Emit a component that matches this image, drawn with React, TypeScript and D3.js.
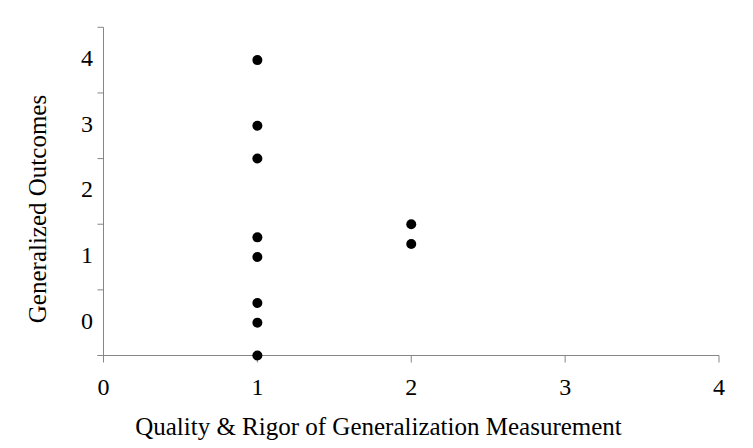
import React from "react";
import * as d3 from "d3";

const xValues = [1, 1, 1, 1, 1, 1, 1, 1, 2, 2];
const yValues = [4, 3, 2.5, 1.3, 1, 0.3, 0, -0.5, 1.5, 1.2];
const xTickLabels = [0, 1, 2, 3, 4];
const yTickLabels = [0, 1, 2, 3, 4];
const yTickMarks = [-0.5, 0.5, 1.5, 2.5, 3.5, 4.5];
const xTitle = "Quality & Rigor of Generalization Measurement";
const yTitle = "Generalized Outcomes";

const W = 753;
const H = 448;
const FONT = "'Liberation Serif', 'Times New Roman', serif";
const AXIS = "#868686";

export default function App() {
  const x = d3.scaleLinear().domain([0, 4]).range([103.5, 719]);
  const y = d3.scaleLinear().domain([-0.5, 4.5]).range([355.5, 27.3]);
  const y0 = y(-0.5);
  return (
    <svg
      width={W}
      height={H}
      style={{ position: "absolute", left: 0, top: 0, background: "#fff" }}
    >
      <rect x={0} y={0} width={W} height={H} fill="#fff" />
      {/* y axis */}
      <line x1={x(0)} x2={x(0)} y1={y(4.5)} y2={y0} stroke={AXIS} strokeWidth={1} />
      {yTickMarks.map((t) => (
        <line key={"yt" + t} x1={x(0) - 6} x2={x(0)} y1={y(t)} y2={y(t)} stroke={AXIS} strokeWidth={1} />
      ))}
      {yTickLabels.map((t) => (
        <text
          key={"yl" + t}
          x={93}
          y={y(t) - 2}
          textAnchor="end"
          dominantBaseline="central"
          fontFamily={FONT}
          fontSize={24}
          fill="#000"
        >
          {t}
        </text>
      ))}
      {/* x axis */}
      <line x1={x(0) - 6} x2={x(4)} y1={y0} y2={y0} stroke={AXIS} strokeWidth={1} />
      {xTickLabels.map((t) => (
        <line key={"xt" + t} x1={x(t)} x2={x(t)} y1={y0} y2={y0 + 7} stroke={AXIS} strokeWidth={1} />
      ))}
      {xTickLabels.map((t) => (
        <text
          key={"xl" + t}
          x={x(t)}
          y={387}
          textAnchor="middle"
          dominantBaseline="central"
          fontFamily={FONT}
          fontSize={24}
          fill="#000"
        >
          {t}
        </text>
      ))}
      {/* titles */}
      <text
        x={378.5}
        y={426}
        textAnchor="middle"
        dominantBaseline="central"
        fontFamily={FONT}
        fontSize={25}
        fill="#000"
      >
        {xTitle}
      </text>
      <text
        transform={`translate(37, ${209}) rotate(-90)`}
        textAnchor="middle"
        dominantBaseline="central"
        fontFamily={FONT}
        fontSize={25}
        fill="#000"
      >
        {yTitle}
      </text>
      {/* points */}
      {xValues.map((xv, i) => (
        <circle key={"p" + i} cx={x(xv)} cy={y(yValues[i])} r={5} fill="#000" />
      ))}
    </svg>
  );
}
